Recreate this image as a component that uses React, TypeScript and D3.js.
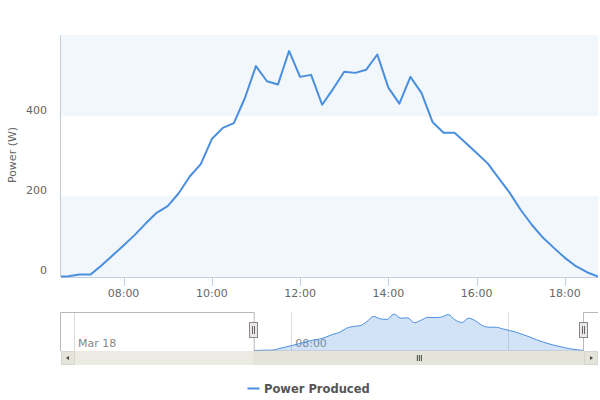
import React from "react";
import * as d3 from "d3";

const times = [
  "06:35","06:45","07:00","07:15","07:30","07:45","08:00","08:15","08:30","08:45",
  "09:00","09:15","09:30","09:45","10:00","10:15","10:30","10:45","11:00","11:15",
  "11:30","11:45","12:00","12:15","12:30","12:45","13:00","13:15","13:30","13:45",
  "14:00","14:15","14:30","14:45","15:00","15:15","15:30","15:45","16:00","16:15",
  "16:30","16:45","17:00","17:15","17:30","17:45","18:00","18:15","18:30","18:45",
];
const power = [
  -2, -1, 3, 3, 26, 51, 76, 102, 131, 158,
  175, 207, 249, 280, 343, 371, 383, 446, 526, 488,
  480, 564, 499, 504, 429, 469, 512, 509, 517, 555,
  472, 432, 499, 459, 386, 359, 359, 334, 308, 282,
  245, 208, 165, 128, 96, 70, 45, 24, 9, -2,
];
const yTicks = [0, 200, 400];
const seriesName = "Power Produced";
const yTitle = "Power (W)";

const toDate = (s: string) => {
  const [h, m] = s.split(":").map(Number);
  return new Date(Date.UTC(2014, 2, 18, h, m));
};
const data = times.map((t, i) => ({ t: toDate(t), v: power[i] }));

const FONT = "'DejaVu Sans', Verdana, sans-serif";
const BLUE = "#4a8fdf";

export default function App() {
  const left = 61, right = 598, top = 35, bottom = 277;
  const x = d3.scaleUtc().domain([data[0].t, data[data.length - 1].t]).range([left, right]);
  const y = d3.scaleLinear().domain([-3, 604]).range([bottom, top]);
  const line = d3.line<{ t: Date; v: number }>().x(d => x(d.t)).y(d => y(d.v));
  const xTicks = x.ticks(d3.utcHour.every(2)!);
  const fmt = d3.utcFormat("%H:%M");

  // navigator
  const nLeft = 75, nRight = 584, nTop = 312, nBottom = 351;
  const nx = d3.scaleUtc().domain([new Date(Date.UTC(2014, 2, 18, 0, 0)), data[data.length - 1].t]).range([nLeft, nRight]);
  const ny = d3.scaleLinear().domain([d3.min(power)!, d3.max(power)!]).range([350.5, 314]);
  const area = d3.area<{ t: Date; v: number }>().x(d => nx(d.t)).y0(nBottom).y1(d => ny(d.v)).curve(d3.curveMonotoneX);
  const nline = d3.line<{ t: Date; v: number }>().x(d => nx(d.t)).y(d => ny(d.v)).curve(d3.curveMonotoneX);
  const nTicks = nx.ticks(d3.utcHour.every(8)!);
  const nFmt = (d: Date) => (d.getUTCHours() === 0 ? d3.utcFormat("%b %d")(d) : d3.utcFormat("%H:%M")(d));
  const selL = nx(data[0].t), selR = nx(data[data.length - 1].t);

  const bands = [
    [-3, 200, "#f2f7fc"],
    [400, 604, "#f2f7fc"],
  ] as const;

  return (
    <svg width={600} height={400} style={{ position: "absolute", left: 0, top: 0, fontFamily: FONT }}>
      <rect x={0} y={0} width={600} height={400} fill="#fff" />
      <defs>
        <clipPath id="plotclip">
          <rect x={left} y={top} width={right - left} height={bottom - top + 1} />
        </clipPath>
      </defs>
      {bands.map(([a, b, c], i) => (
        <rect key={i} x={left} y={y(b)} width={right - left} height={y(a) - y(b)} fill={c} />
      ))}
      {/* y axis line */}
      <line x1={left - 0.5} x2={left - 0.5} y1={top} y2={bottom} stroke="#c8ccd4" />
      {/* x axis */}
      <line x1={left} x2={right} y1={bottom + 0.5} y2={bottom + 0.5} stroke="#c0d0e0" />
      {xTicks.map((t, i) => (
        <g key={i}>
          <line x1={Math.round(x(t)) + 0.5} x2={Math.round(x(t)) + 0.5} y1={bottom} y2={bottom + 9} stroke="#c0d0e0" />
          <text x={x(t)} y={297} textAnchor="middle" fontSize={11} fill="#666">{fmt(t)}</text>
        </g>
      ))}
      {yTicks.map((v, i) => (
        <text key={i} x={47} y={y(v) - 2} textAnchor="end" fontSize={11} fill="#666">{v}</text>
      ))}
      <text transform={`translate(16,155) rotate(-90)`} textAnchor="middle" fontSize={11} fill="#666">{yTitle}</text>
      <path d={line(data)!} fill="none" stroke={BLUE} strokeWidth={2} strokeLinejoin="round" clipPath="url(#plotclip)" />

      {/* navigator */}
      {nTicks.map((t, i) => (
        <line key={"g" + i} x1={Math.round(nx(t)) - 0.5} x2={Math.round(nx(t)) - 0.5} y1={nTop} y2={nBottom} stroke="#dcdcdc" />
      ))}
      {nTicks.slice(0, 2).map((t, i) => (
        <text key={"l" + i} x={nx(t) + 3} y={346.5} fontSize={11} fill="#888">{nFmt(t)}</text>
      ))}
      <path d={area(data)!} fill="rgba(74,144,226,0.25)" />
      <path d={nline(data)!} fill="none" stroke={BLUE} strokeWidth={1} />
      <path
        d={`M${left - 0.5},${nBottom} V${nTop + 0.5} H${selL + 0.5} V${nBottom} H${selR - 0.5} V${nTop + 0.5} H${right}`}
        fill="none"
        stroke="#b8b8bc"
      />
      {/* scrollbar */}
      <rect x={left} y={nBottom} width={right - left} height={14} fill="#ebebe3" />
      <rect x={selL} y={nBottom} width={selR - selL} height={14} fill="#e4e4da" />
      <rect x={left + 0.5} y={nBottom + 0.5} width={13} height={13} fill="#e4e4da" stroke="#d6d6cc" />
      <rect x={right - 13.5} y={nBottom + 0.5} width={13} height={13} fill="#e4e4da" stroke="#d6d6cc" />
      <path d={`M${left + 8},${nBottom + 5} L${left + 5},${nBottom + 7} L${left + 8},${nBottom + 9} Z`} fill="#444" />
      <path d={`M${right - 8},${nBottom + 5} L${right - 5},${nBottom + 7} L${right - 8},${nBottom + 9} Z`} fill="#444" />
      {[-2, 0, 2].map(o => (
        <line key={o} x1={(selL + selR) / 2 + o + 0.5} x2={(selL + selR) / 2 + o + 0.5} y1={nBottom + 4} y2={nBottom + 10} stroke="#444" />
      ))}
      {/* handles */}
      {[selL, selR].map((hx, i) => (
        <g key={"h" + i}>
          <rect x={Math.round(hx) - 4.5} y={322.5} width={8} height={15} fill="#ebe7e8" stroke="#888" />
          <line x1={Math.round(hx) - 1.5} x2={Math.round(hx) - 1.5} y1={326} y2={334} stroke="#666" />
          <line x1={Math.round(hx) + 0.5} x2={Math.round(hx) + 0.5} y1={326} y2={334} stroke="#666" />
        </g>
      ))}

      {/* legend */}
      <line x1={247.5} x2={259.5} y1={388.5} y2={388.5} stroke={BLUE} strokeWidth={2} />
      <text x={264} y={392.5} fontSize={11.5} fontWeight="bold" fill="#555">{seriesName}</text>
    </svg>
  );
}
